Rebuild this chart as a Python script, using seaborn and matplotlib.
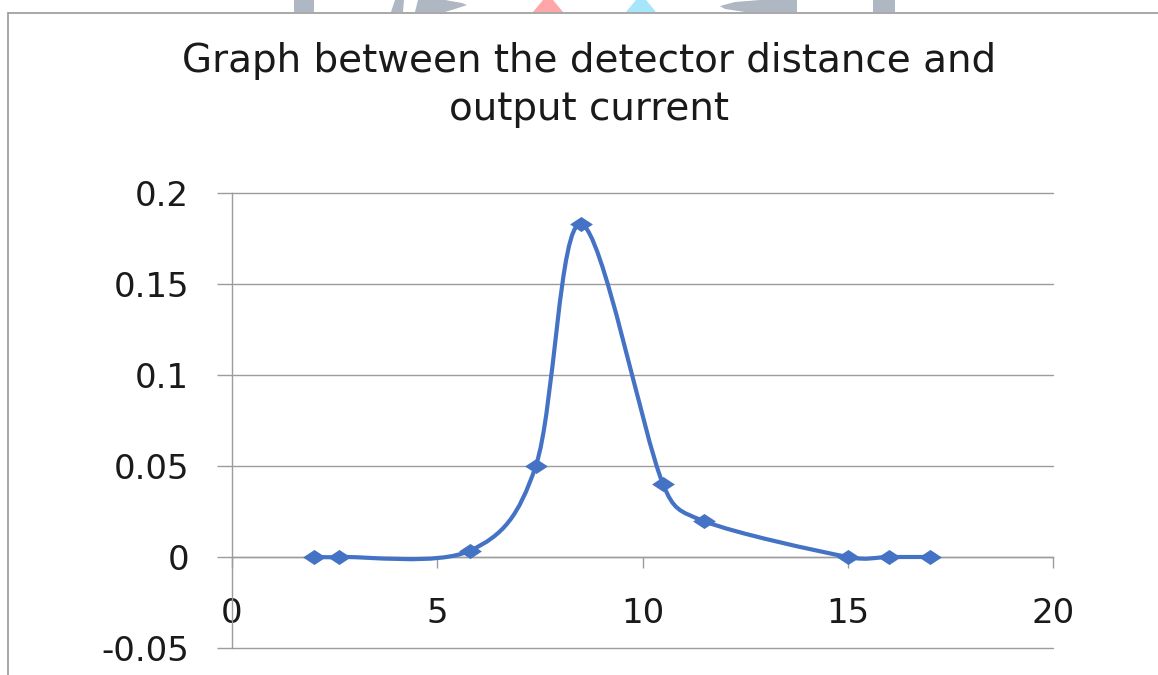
import numpy as np
import matplotlib
matplotlib.use("Agg")
import matplotlib.pyplot as plt
from matplotlib.path import Path
from matplotlib.patches import PathPatch, Polygon
from matplotlib.lines import Line2D
import seaborn as sns
import pandas as pd

# ---- data ----
distance = [2, 2.6, 5.8, 7.4, 8.5, 10.5, 11.5, 15, 16, 17]
current = [0.0, 0.0, 0.0035, 0.05, 0.183, 0.04, 0.0197, 0.0, 0.0, 0.0]
x_ticks = [0, 5, 10, 15, 20]
x_tick_labels = ["0", "5", "10", "15", "20"]
y_ticks = [-0.05, 0, 0.05, 0.1, 0.15, 0.2]
y_tick_labels = ["-0.05", "0", "0.05", "0.1", "0.15", "0.2"]
title = "Graph between the detector distance and\noutput current"

sns.set_style("white")
plt.rcParams['font.family'] = ['DejaVu Sans']

W, H = 1158, 675
fig = plt.figure(figsize=(W / 100, H / 100), dpi=100)
ax = fig.add_axes([232 / W, 1 - 648 / H, (1053 - 232) / W, (648 - 193) / H])

blue = "#4472C4"
grey = "#9C9C9C"

ax.set_xlim(0, 20)
ax.set_ylim(-0.05, 0.2)

# smooth line (Excel-like Bezier smoothing through the data points,
# control-point lengths limited in screen space)
pts = np.column_stack([distance, current]).astype(float)
pix = ax.transData.transform(pts)
verts = [tuple(pts[0])]
codes = [Path.MOVETO]
n = len(pts)
for i in range(n - 1):
    i0 = i - 1 if i > 0 else i
    i3 = i + 2 if i + 2 < n else i + 1
    p0, p1, p2, p3 = pts[i0], pts[i], pts[i + 1], pts[i3]
    q0, q1, q2, q3 = pix[i0], pix[i], pix[i + 1], pix[i3]
    d12 = np.hypot(*(q2 - q1))
    d02 = np.hypot(*(q2 - q0))
    d13 = np.hypot(*(q3 - q1))
    f1 = 1 / 6 if d02 / 6 < d12 / 2 else d12 / (2 * d02)
    f2 = 1 / 6 if d13 / 6 < d12 / 2 else d12 / (2 * d13)
    c1 = p1 + f1 * (p2 - p0)
    c2 = p2 - f2 * (p3 - p1)
    verts += [tuple(c1), tuple(c2), tuple(p2)]
    codes += [Path.CURVE4] * 3
ax.add_patch(PathPatch(Path(verts, codes), facecolor="none", edgecolor=blue,
                       lw=3.0, zorder=3, capstyle="round", joinstyle="round"))

# diamond markers
diamond = [(-1, 0), (0, 0.66), (1, 0), (0, -0.66), (-1, 0)]
df = pd.DataFrame({"distance": distance, "current": current})
sns.scatterplot(data=df, x="distance", y="current", ax=ax, marker=diamond,
                s=270, color=blue, edgecolor=blue, linewidth=0, zorder=4)

ax.set_xlim(0, 20)
ax.set_ylim(-0.05, 0.2)
ax.set_xticks(x_ticks)
ax.set_xticklabels(x_tick_labels)
ax.set_yticks(y_ticks)
ax.set_yticklabels(y_tick_labels)
ax.set_xlabel("")
ax.set_ylabel("")

ax.yaxis.grid(True, color=grey, lw=1.0)
ax.xaxis.grid(False)
ax.set_axisbelow(True)
for gl in ax.get_ygridlines():
    gl.set_clip_on(False)

for s in ["top", "right"]:
    ax.spines[s].set_visible(False)
ax.spines["bottom"].set_position(("data", 0))
ax.spines["bottom"].set_color(grey)
ax.spines["bottom"].set_linewidth(1.0)
ax.spines["left"].set_color(grey)
ax.spines["left"].set_linewidth(1.0)

ax.tick_params(axis="y", direction="out", length=11, width=1.0, color=grey,
               pad=20, labelsize=24.5, labelcolor="#1a1a1a", left=True)
ax.tick_params(axis="x", direction="out", length=8, width=1.0, color=grey,
               pad=21, labelsize=24.5, labelcolor="#1a1a1a", bottom=True)

# title
fig.text(589 / W, 1 - 85 / H, title, ha="center", va="center", fontsize=28,
         color="#1a1a1a", linespacing=1.3)

# outer chart frame
fig.add_artist(Line2D([8 / W, 1], [1 - 13 / H, 1 - 13 / H], transform=fig.transFigure,
                      color="#9a9a9a", lw=1.2, zorder=2))
fig.add_artist(Line2D([8 / W, 8 / W], [1 - 13 / H, 0], transform=fig.transFigure,
                      color="#9a9a9a", lw=1.2, zorder=2))

# watermark fragments at the top edge
def fpoly(xy, color):
    p = Polygon([(x / W, 1 - y / H) for x, y in xy], closed=True, transform=fig.transFigure,
                facecolor=color, edgecolor="none", zorder=0)
    fig.add_artist(p)

wg = "#AEB7C2"
fpoly([(294, 0), (314, 0), (314, 12), (294, 12)], wg)
fpoly([(391, 12), (395, 0), (404, 0), (403, 12)], wg)
fpoly([(415, 12), (418, 0), (445, 0), (462, 3), (467, 5), (455, 9), (445, 12)], wg)
fpoly([(533, 12), (543, 0), (553, 0), (563, 12)], "#FFA6A8")
fpoly([(626, 12), (636, 0), (646, 0), (656, 12)], "#A6E6FB")
fpoly([(720, 6), (735, 2), (760, 0), (797, 0), (797, 12), (745, 12), (725, 9)], wg)
fpoly([(873, 0), (895, 0), (895, 12), (873, 12)], wg)

fig.savefig("out.png", dpi=100, facecolor="white")
